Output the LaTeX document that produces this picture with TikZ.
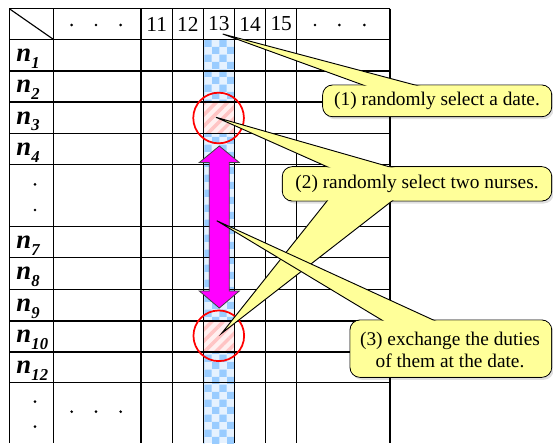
\documentclass[tikz,border=0pt]{standalone}
\usepackage{fontspec}
\setmainfont{Liberation Serif}
\usetikzlibrary{patterns,patterns.meta,calc}
\definecolor{callyellow}{HTML}{FFFF99}
\definecolor{checkblue}{HTML}{99CCFF}
\definecolor{checkbg}{HTML}{E6F2FF}
\definecolor{stripepink}{HTML}{FFC4C4}
\definecolor{pinkbg}{HTML}{FFF0F0}
\definecolor{arrowmag}{HTML}{FF00FF}
\begin{document}
\begin{tikzpicture}[x=0.75pt,y=-0.75pt,
  gridline/.style={black, line width=0.85pt},
  thickline/.style={black, line width=1.6pt},
  callbox/.style={fill=callyellow, draw=black, line width=0.7pt, rounded corners=7.5pt},
  callin/.style={fill=callyellow, rounded corners=7.1pt},
  wedge/.style={fill=callyellow, draw=black, line width=0.7pt},
  calltext/.style={font=\rmfamily\fontsize{14.5}{16.5}\selectfont, align=center, inner sep=0pt},
  headtext/.style={font=\rmfamily\fontsize{16}{16}\selectfont, inner sep=0pt},
  rowtext/.style={font=\rmfamily\fontsize{20}{20}\selectfont\bfseries\itshape, inner sep=0pt, anchor=base west},
  boxshade/.style={fill=black, opacity=0.12, rounded corners=7.5pt},
  ring/.style={draw=red, line width=1.3pt},
  ]
\useasboundingbox (0,0) rectangle (553,443);

% column 13 fill
\fill[checkbg] (203.3,39.3) rectangle (234.3,443);
\fill[pattern=checkerboard, pattern color=checkblue] (203.3,39.3) rectangle (234.3,443);
\foreach \ya/\yb in {102/133.3, 321/351.7}{
  \fill[pinkbg] (203.3,\ya) rectangle (234.3,\yb);
  \fill[pattern={Lines[angle=45,distance=6pt,line width=2.6pt]}, pattern color=stripepink] (203.3,\ya) rectangle (234.3,\yb);
}

% grid
\foreach \x in {9.3,53.3,141,172.3,203.3,234.3,265.7,296.7,390}
  \draw[gridline] (\x,8.7) -- (\x,443);
\foreach \y in {8.7,39.3,102,133.3,164.3,226.7,257.7,289.3,321,382.7}
  \draw[gridline] (9.3,\y) -- (390,\y);
\foreach \y in {70.7,351.7}
  \draw[thickline] (9.3,\y) -- (390,\y);
\draw[gridline] (9.3,8.7) -- (53.3,39.3);

% header
\node[headtext] (h11) at (156.7,24) {11};
\node[headtext] (h12) at (187.8,24) {12};
\node[headtext] (h13) at (218.8,24) {13};
\node[headtext] (h14) at (250,24) {14};
\node[headtext] (h15) at (281.2,24) {15};
\foreach \x/\y in {71.7/25, 96/25, 120.7/25, 315/25, 339.3/25, 364.3/25,
                   71.7/411.7, 96/411.7, 120.7/411.7,
                   35/184.3, 35/210, 35/401.7, 35/426.7}
  \fill (\x,\y) circle[radius=1.1pt];

% row labels
\foreach \c/\s in {55/1, 86.3/2, 117.7/3, 148.8/4, 242.2/7, 273.5/8, 305.2/9, 336.3/10, 367.2/12}
  \node[rowtext] (n\s) at (16,\c+6.3) {n\kern0.3pt\raisebox{-5.2pt}{\fontsize{12.5}{12.5}\selectfont\bfseries\itshape \s}};

% circles
\draw[ring] (218.6,118) circle[radius=19pt];
\draw[ring] (218.8,335.8) circle[radius=19pt];

% magenta double arrow
\filldraw[fill=arrowmag, draw=black!75, line width=0.6pt]
  (219.3,146) -- (239.3,162.5) -- (229.3,162.5) -- (229.3,291) -- (239.3,291)
  -- (219.3,308) -- (199.3,291) -- (209.3,291) -- (209.3,162.5) -- (199.3,162.5) -- cycle;

% callout 1
\coordinate (tip1) at (222.7,34);
\coordinate (c1a) at (363,85);
\coordinate (c1b) at (415,85);
\fill[boxshade] (324.7,87.5) rectangle (553.7,119.2);
\draw[callbox] (322.7,85) rectangle (551.7,116.7);
\draw[wedge] (tip1) -- ($(tip1)!1.1!(c1a)$) -- ($(tip1)!1.1!(c1b)$) -- cycle;
\fill[callin] (323.3,85.6) rectangle (551.1,116.1);
\node[calltext] (t1) at (437,101) {(1) randomly select a date.};

% callout 2
\coordinate (tip2a) at (216,117.3);
\coordinate (c2a) at (327,166.7);
\coordinate (c2b) at (389,166.7);
\coordinate (tip2b) at (221.7,333.3);
\coordinate (c2c) at (327,201);
\coordinate (c2d) at (392,201);
\fill[boxshade] (284.3,169.2) rectangle (553.7,203.5);
\draw[callbox] (282.3,166.7) rectangle (551.7,201);
\draw[wedge] (tip2a) -- ($(tip2a)!1.12!(c2a)$) -- ($(tip2a)!1.12!(c2b)$) -- cycle;
\draw[wedge] (tip2b) -- ($(tip2b)!1.1!(c2c)$) -- ($(tip2b)!1.1!(c2d)$) -- cycle;
\fill[callin] (282.9,167.3) rectangle (551.1,200.4);
\node[calltext] (t2) at (417,184) {(2) randomly select two nurses.};

% callout 3
\coordinate (tip3) at (216.7,220.7);
\coordinate (c3a) at (381.7,320);
\coordinate (c3b) at (433.3,320);
\fill[boxshade] (352,322.5) rectangle (553.7,379.8);
\draw[callbox] (350,320) rectangle (551.7,377.3);
\draw[wedge] (tip3) -- ($(tip3)!1.08!(c3a)$) -- ($(tip3)!1.08!(c3b)$) -- cycle;
\fill[callin] (350.6,320.6) rectangle (551.1,376.7);
\node[calltext] (t3) at (450,349.5) {(3) exchange the duties\\of them at the date.};
\end{tikzpicture}
\end{document}
